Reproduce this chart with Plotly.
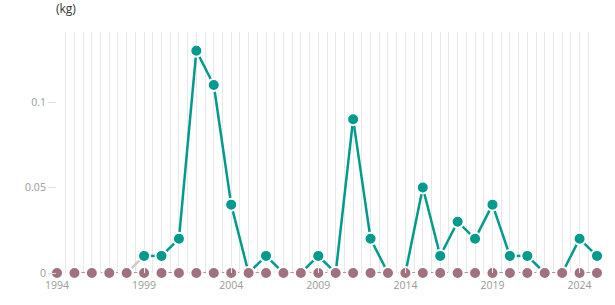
import plotly.graph_objects as go

years = list(range(1994, 2026))
teal_vals = [0, 0, 0, 0, 0, 0.01, 0.01, 0.02, 0.13, 0.11, 0.04, 0, 0.01, 0, 0, 0.01,
             0, 0.09, 0.02, 0, 0, 0.05, 0.01, 0.03, 0.02, 0.04, 0.01, 0.01, 0, 0, 0.02, 0.01]
base_vals = [0] * len(years)
first_idx = 5  # first year the teal series is drawn (1999)
tick_years = [1994, 1999, 2004, 2009, 2014, 2019, 2024]
y_ticks = [0, 0.05, 0.1]
y_labels = ["0", "0.05", "0.1"]

TEAL = "#009a8e"
MAUVE = "#a2717f"

# build teal line: skip segments where both ends are zero
lx, ly = [], []
for i in range(first_idx, len(years) - 1):
    if teal_vals[i] == 0 and teal_vals[i + 1] == 0:
        continue
    lx += [years[i], years[i + 1], None]
    ly += [teal_vals[i], teal_vals[i + 1], None]

mx = [years[i] for i in range(first_idx, len(years)) if teal_vals[i] != 0]
my = [teal_vals[i] for i in range(first_idx, len(years)) if teal_vals[i] != 0]

fig = go.Figure()
fig.add_trace(go.Scatter(x=[years[first_idx - 1], years[first_idx]],
                         y=[teal_vals[first_idx - 1], teal_vals[first_idx]],
                         mode="lines", line=dict(color="#cccccc", width=2.5),
                         hoverinfo="skip", cliponaxis=False))
fig.add_trace(go.Scatter(x=lx, y=ly, mode="lines", line=dict(color=TEAL, width=2.5),
                         cliponaxis=False, hoverinfo="skip"))
fig.add_trace(go.Scatter(x=years, y=base_vals, mode="lines+markers",
                         line=dict(color=MAUVE, width=1.5, dash="6px,5px"),
                         marker=dict(color=MAUVE, size=12, line=dict(color="white", width=2)),
                         cliponaxis=False))
fig.add_trace(go.Scatter(x=mx, y=my, mode="markers",
                         marker=dict(color=TEAL, size=12, line=dict(color="white", width=2)),
                         cliponaxis=False))

fig.update_layout(
    width=615, height=305,
    margin=dict(l=57, r=18, t=32, b=32),
    plot_bgcolor="white", paper_bgcolor="white",
    showlegend=False,
    font=dict(family="Open Sans", size=10, color="#999999"),
    xaxis=dict(range=[1994, 2025], tickvals=tick_years, ticktext=[str(t) for t in tick_years],
               showgrid=True, gridcolor="#e8e8e8", gridwidth=1,
               minor=dict(dtick=0.5, tick0=1994, showgrid=True, gridcolor="#e8e8e8", gridwidth=1),
               zeroline=False, showline=False, ticks="inside", ticklen=6, tickcolor="#eeeeee",
               ticklabelstandoff=4,
               layer="above traces", tickfont=dict(color="#999999", size=10.5)),
    yaxis=dict(range=[0, 0.141], tickvals=y_ticks, ticktext=y_labels, showgrid=False,
               zeroline=False, showline=False, ticks="outside", ticklen=8, tickcolor="#dddddd",
               tickfont=dict(color="#999999", size=10.5)),
    annotations=[dict(text="(kg)", xref="paper", yref="paper", x=-0.005, y=1.0, yshift=24,
                      xanchor="left", yanchor="middle", showarrow=False,
                      font=dict(color="#333333", size=12))],
)

fig.write_html("out.html")
